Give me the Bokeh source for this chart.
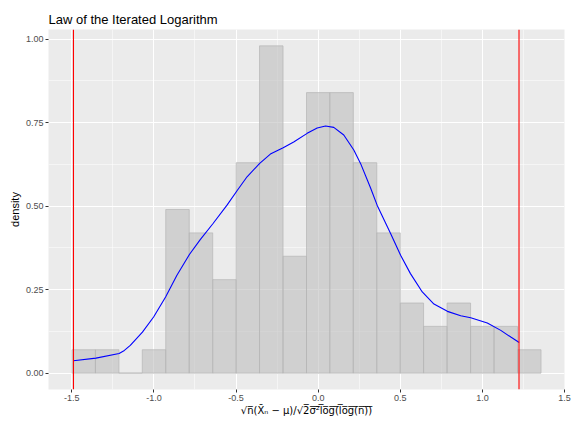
from bokeh.plotting import figure
from bokeh.models import Range1d, FixedTicker, Span
from bokeh.embed import file_html
from bokeh.resources import INLINE

# ---- data ----
bin_edges = [-1.499, -1.356, -1.213, -1.071, -0.928, -0.785, -0.642, -0.499, -0.357,
             -0.214, -0.071, 0.071, 0.214, 0.357, 0.500, 0.642, 0.785, 0.928, 1.071,
             1.214, 1.357]
density = [0.070, 0.070, 0.000, 0.070, 0.490, 0.420, 0.280, 0.630, 0.980, 0.350,
           0.840, 0.840, 0.630, 0.420, 0.210, 0.140, 0.210, 0.140, 0.140, 0.070]

curve_x = [-1.490, -1.353, -1.212, -1.180, -1.144, -1.070, -1.002, -0.929, -0.860,
           -0.783, -0.718, -0.640, -0.555, -0.494, -0.433, -0.356, -0.291, -0.213,
           -0.149, -0.067, -0.006, 0.045, 0.095, 0.156, 0.217, 0.258, 0.318, 0.359,
           0.441, 0.502, 0.562, 0.634, 0.705, 0.787, 0.868, 0.929, 1.030, 1.112,
           1.173, 1.224]
curve_y = [0.037, 0.045, 0.059, 0.068, 0.083, 0.123, 0.168, 0.228, 0.293,
           0.356, 0.400, 0.448, 0.503, 0.546, 0.588, 0.628, 0.656, 0.675,
           0.692, 0.718, 0.734, 0.740, 0.736, 0.713, 0.668, 0.628, 0.556, 0.503,
           0.418, 0.353, 0.298, 0.243, 0.207, 0.185, 0.172, 0.166, 0.150, 0.128,
           0.108, 0.092]

vline_positions = [-1.490, 1.223]

x_ticks = [-1.5, -1.0, -0.5, 0.0, 0.5, 1.0, 1.5]
x_tick_labels = ["-1.5", "-1.0", "-0.5", "0.0", "0.5", "1.0", "1.5"]
x_minor = [-1.25, -0.75, -0.25, 0.25, 0.75, 1.25]
y_ticks = [0.0, 0.25, 0.5, 0.75, 1.0]
y_tick_labels = ["0.00", "0.25", "0.50", "0.75", "1.00"]
y_minor = [0.125, 0.375, 0.625, 0.875]

title_text = "Law of the Iterated Logarithm"
y_label = "density"
x_label = ("\u221An\u0305(X\u0304\u2099 \u2212 \u03bc)/\u221A"
           + "".join(ch + "\u0305" for ch in "2\u03c3\u00b2log(log(n))"))

FONT = "Liberation Sans"

p = figure(width=575, height=421, output_backend="svg", toolbar_location=None,
           x_range=Range1d(-1.642, 1.500), y_range=Range1d(-0.049, 1.029),
           min_border_left=48, min_border_right=11, min_border_top=29, min_border_bottom=32)

p.background_fill_color = "#EBEBEB"
p.border_fill_color = "white"
p.outline_line_color = None

p.title.text = title_text
p.title.text_font = FONT
p.title.text_font_size = "13px"
p.title.text_font_style = "normal"
p.title.text_color = "black"
p.title.align = "left"
p.title.standoff = 6

p.xaxis.ticker = FixedTicker(ticks=x_ticks, minor_ticks=x_minor)
p.yaxis.ticker = FixedTicker(ticks=y_ticks, minor_ticks=y_minor)
p.xaxis.major_label_overrides = dict(zip(x_ticks, x_tick_labels))
p.yaxis.major_label_overrides = dict(zip(y_ticks, y_tick_labels))

for ax in (p.xaxis, p.yaxis):
    ax.axis_line_color = None
    ax.major_tick_line_color = "#333333"
    ax.major_tick_in = 0
    ax.major_tick_out = 3
    ax.minor_tick_line_color = None
    ax.major_label_text_color = "#4D4D4D"
    ax.major_label_text_font = FONT
    ax.major_label_text_font_size = "9px"
    ax.major_label_standoff = 1
    ax.axis_label_text_font = FONT
    ax.axis_label_text_font_size = "11px"
    ax.axis_label_text_font_style = "normal"
    ax.axis_label_text_color = "black"
    ax.axis_label_standoff = 2

p.yaxis.axis_label = y_label
p.xaxis.axis_label = x_label
p.xaxis.axis_label_text_font = "DejaVu Sans"
p.xaxis.axis_label_text_font_size = "10px"
p.xaxis.axis_label_standoff = 1

for g in (p.xgrid, p.ygrid):
    g.grid_line_color = "white"
    g.grid_line_width = 1.1
    g.minor_grid_line_color = "white"
    g.minor_grid_line_width = 0.5

p.quad(left=bin_edges[:-1], right=bin_edges[1:], bottom=0, top=density,
       fill_color="#BEBEBE", fill_alpha=0.6, line_color="#B5B5B5", line_alpha=0.7,
       line_width=1)

p.line(curve_x, curve_y, line_color="blue", line_width=1.1)

for v in vline_positions:
    p.add_layout(Span(location=v, dimension="height", line_color="red", line_width=1.1))

open("out.html", "w").write(file_html(p, INLINE))
